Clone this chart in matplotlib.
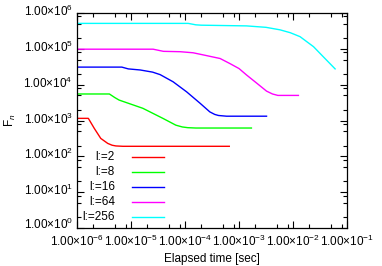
import numpy as np
import matplotlib
matplotlib.use("Agg")
import matplotlib.pyplot as plt
from matplotlib.ticker import FixedLocator, FuncFormatter, NullFormatter
from matplotlib.transforms import ScaledTranslation

plt.rcParams['font.family'] = ['Liberation Sans', 'DejaVu Sans']
plt.rcParams['mathtext.fontset'] = 'custom'
plt.rcParams['mathtext.rm'] = 'Liberation Sans'
plt.rcParams['mathtext.it'] = 'Liberation Sans:italic'

labels = ["l:=2", "l:=8", "l:=16", "l:=64", "l:=256"]
colors = ["#ff0000", "#00ff00", "#0000ff", "#ff00ff", "#00ffff"]

# log10(time), log10(F_n)
red_t = [-6.0, -5.79, -5.68, -5.56, -5.43, -5.35, -5.28, -5.15, -3.18]
red_f = [3.06, 3.06, 2.78, 2.50, 2.36, 2.31, 2.29, 2.28, 2.28]
green_t = [-6.0, -5.40, -5.30, -5.22, -4.78, -4.41, -4.17, -4.05, -3.95, -3.80, -2.77]
green_f = [3.74, 3.74, 3.64, 3.57, 3.34, 3.06, 2.87, 2.82, 2.80, 2.79, 2.79]
blue_t = [-6.0, -5.17, -5.05, -4.83, -4.60, -4.46, -4.22, -3.97, -3.72, -3.54, -3.45, -3.38, -3.23, -2.49]
blue_f = [4.49, 4.49, 4.44, 4.41, 4.35, 4.28, 4.08, 3.80, 3.48, 3.24, 3.17, 3.14, 3.12, 3.12]
mag_t = [-6.0, -4.59, -4.40, -4.09, -3.85, -3.66, -3.35, -3.17, -3.00, -2.86, -2.67, -2.49, -2.38, -2.28, -1.90]
mag_f = [4.99, 4.99, 4.93, 4.92, 4.89, 4.83, 4.73, 4.59, 4.45, 4.27, 4.04, 3.82, 3.74, 3.70, 3.70]
cyan_t = [-6.0, -3.94, -3.80, -3.70, -2.86, -2.50, -2.24, -2.05, -1.87, -1.62, -1.44, -1.22]
cyan_f = [5.71, 5.71, 5.67, 5.66, 5.64, 5.60, 5.53, 5.45, 5.34, 5.06, 4.78, 4.44]

series_t = [red_t, green_t, blue_t, mag_t, cyan_t]
series_f = [red_f, green_f, blue_f, mag_f, cyan_f]

fig = plt.figure(figsize=(3.82, 2.66), dpi=100)
L, R, T, B = 77, 347, 13, 228
ax = fig.add_axes([L/382, 1-B/266, (R-L)/382, (B-T)/266])

for t, f, c in zip(series_t, series_f, colors):
    ax.plot(10**np.array(t), 10**np.array(f), color=c, lw=1.0, solid_joinstyle='round')

ax.set_xscale('log')
ax.set_yscale('log')
ax.set_xlim(1e-6, 1e-1)
ax.set_ylim(1e0, 1e6)

def fmt(v, pos):
    e = int(round(np.log10(v)))
    return "1.00×10$^{%d}$" % e

ax.xaxis.set_major_locator(FixedLocator([10.0**k for k in range(-6, 0)]))
ax.yaxis.set_major_locator(FixedLocator([10.0**k for k in range(0, 7)]))
ax.xaxis.set_minor_locator(FixedLocator([m*10.0**k for k in range(-6, -1) for m in (2, 5, 8)]))
ax.yaxis.set_minor_locator(FixedLocator([m*10.0**k for k in range(0, 6) for m in (2, 5, 8)]))
ax.xaxis.set_major_formatter(FuncFormatter(fmt))
ax.yaxis.set_major_formatter(FuncFormatter(fmt))
ax.xaxis.set_minor_formatter(NullFormatter())
ax.yaxis.set_minor_formatter(NullFormatter())
ax.tick_params(which='both', direction='in', top=True, right=True, labelsize=8.5, width=0.8)
ax.tick_params(axis='x', which='major', pad=4)
ax.tick_params(axis='y', which='major', pad=3)
ax.tick_params(which='major', length=5)
ax.tick_params(which='minor', length=3)
for s in ax.spines.values():
    s.set_linewidth(0.9)

# gnuplot centres the whole label (incl. superscript), so lift y labels slightly
fig.canvas.draw()
for i, lab in enumerate(ax.yaxis.get_majorticklabels()):
    dy = 3 if i > 0 else 5
    lab.set_transform(lab.get_transform() + ScaledTranslation(0, dy/72*0.72, fig.dpi_scale_trans))

ax.set_xlabel("Elapsed time [sec]", fontsize=8.5, labelpad=3)
ax.set_ylabel("F$_n$", fontsize=8.5, labelpad=4)

# gnuplot-style key: right-aligned labels, sample line to the right
key_rows_px = [157.3, 172.3, 187.3, 202.0, 217.0]
text_x = (115 - L) / (R - L)
line_x0 = (132 - L) / (R - L)
line_x1 = (164 - L) / (R - L)
for lab, c, py in zip(labels, colors, key_rows_px):
    yf = (B - py) / (B - T)
    ax.text(text_x, yf, lab, transform=ax.transAxes, ha='right', va='center', fontsize=8.5)
    ax.plot([line_x0, line_x1], [yf, yf], transform=ax.transAxes, color=c, lw=1.0)

fig.savefig("out.png", dpi=100)
